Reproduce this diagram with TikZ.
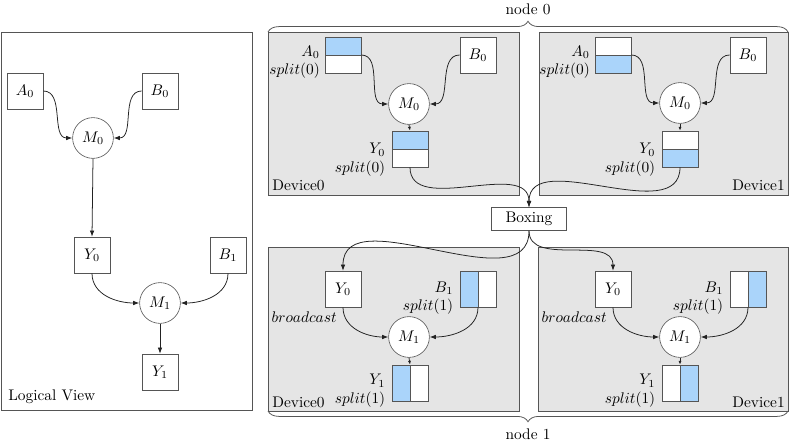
\documentclass[tikz,border=0pt]{standalone}
\usepackage{tikz}
\usetikzlibrary{positioning,arrows.meta,decorations.pathreplacing}
\definecolor{deviceGray}{HTML}{E5E5E5}
\definecolor{splitBlue}{HTML}{AAD4FA}
\definecolor{edgeGray}{HTML}{555555}
\definecolor{arrowBlack}{HTML}{222222}
\tikzset{
    frame/.style={draw=edgeGray,line width=0.5pt},
    device/.style={draw=edgeGray,fill=deviceGray,line width=0.5pt},
    tensor/.style={draw=edgeGray,fill=white,minimum width=23.4pt,
        minimum height=23.4pt,inner sep=0pt},
    opnode/.style={circle,draw=edgeGray,fill=white,minimum size=26.5pt,inner sep=0pt},
    bluetop/.style={tensor,path picture={
        \fill[splitBlue] (path picture bounding box.north west) rectangle (path picture bounding box.east);
        \draw[edgeGray] (path picture bounding box.west) -- (path picture bounding box.east);}},
    bluebottom/.style={tensor,path picture={
        \fill[splitBlue] (path picture bounding box.west) rectangle (path picture bounding box.south east);
        \draw[edgeGray] (path picture bounding box.west) -- (path picture bounding box.east);}},
    blueleft/.style={tensor,path picture={
        \fill[splitBlue] (path picture bounding box.north west) rectangle (path picture bounding box.south);
        \draw[edgeGray] (path picture bounding box.north) -- (path picture bounding box.south);}},
    blueright/.style={tensor,path picture={
        \fill[splitBlue] (path picture bounding box.north) rectangle (path picture bounding box.south east);
        \draw[edgeGray] (path picture bounding box.north) -- (path picture bounding box.south);}},
    splitlabel/.style={align=right,inner sep=1pt},
    plainlabel/.style={inner sep=0pt},
    boxingbox/.style={draw=edgeGray,fill=white,minimum width=49pt,minimum height=15pt,inner sep=2pt},
    arrow/.style={-{Latex[length=4pt,width=3pt]},draw=arrowBlack,line width=0.5pt},
    smallarrow/.style={-{Latex[length=2.5pt,width=2pt]},draw=arrowBlack,line width=0.5pt},
    nodebrace/.style={decorate,decoration={brace,amplitude=7pt},draw=edgeGray,line width=0.5pt}
}

\begin{document}
\begin{tikzpicture}[x=0.65pt,y=-0.65pt]
    \useasboundingbox (0,0) rectangle (789,443);

    % logical view
    \draw[frame] (1,32) rectangle (252,410);
    \node[plainlabel,anchor=base west] (logicaltitle) at (8,400) {Logical View};
    \node[tensor] (la0) at (25,91) {$A_0$};
    \node[tensor] (lb0) at (160,91) {$B_0$};
    \node[opnode] (lm0) at (93,138) {$M_0$};
    \node[tensor] (ly0) at (92,255) {$Y_0$};
    \node[tensor] (lb1) at (228,255) {$B_1$};
    \node[opnode] (lm1) at (160,303) {$M_1$};
    \node[tensor] (ly1) at (160,372) {$Y_1$};
    \draw[arrow] (la0.east) to[out=0,in=180] (lm0.west);
    \draw[arrow] (lb0.west) to[out=180,in=0] (lm0.east);
    \draw[arrow] (lm0.south) -- (ly0.north);
    \draw[arrow] (ly0.south) to[out=-90,in=180] (lm1.west);
    \draw[arrow] (lb1.south) to[out=-90,in=0] (lm1.east);
    \draw[arrow] (lm1.south) -- (ly1.north);

    % node 0
    \draw[device] (268,32) rectangle (519,195);
    \draw[device] (539,32) rectangle (788,195);
    \draw[nodebrace] (268,32) -- (788,32);
    \node (nodezero) at (528,9) {node 0};
    \node[plainlabel,anchor=base west] (devzerotop) at (272,191) {Device0};
    \node[plainlabel,anchor=base east] (devonetop) at (785,191) {Device1};

    \node[bluetop] (ua0l) at (343,55) {};
    \node[tensor] (ub0l) at (478,55) {$B_0$};
    \node[opnode] (um0l) at (409,104) {$M_0$};
    \node[bluetop] (uy0l) at (410,149) {};
    \node[splitlabel,left=2pt of ua0l,yshift=-4.5pt] (ua0llbl) {$A_0$\\$split(0)$};
    \node[splitlabel,left=3pt of uy0l,yshift=-7pt] (uy0llbl) {$Y_0$\\$split(0)$};

    \node[bluebottom] (ua0r) at (613,55) {};
    \node[tensor] (ub0r) at (748,55) {$B_0$};
    \node[opnode] (um0r) at (680,103) {$M_0$};
    \node[bluebottom] (uy0r) at (680,149) {};
    \node[splitlabel,left=2pt of ua0r,yshift=-4.5pt] (ua0rlbl) {$A_0$\\$split(0)$};
    \node[splitlabel,left=3pt of uy0r,yshift=-7pt] (uy0rlbl) {$Y_0$\\$split(0)$};

    \draw[arrow] (ua0l.east) to[out=0,in=180] (um0l.west);
    \draw[arrow] (ub0l.west) to[out=180,in=0] (um0l.east);
    \draw[smallarrow] (um0l.south) -- (uy0l.north);
    \draw[arrow] (ua0r.east) to[out=0,in=180] (um0r.west);
    \draw[arrow] (ub0r.west) to[out=180,in=0] (um0r.east);
    \draw[smallarrow] (um0r.south) -- (uy0r.north);

    % boxing
    \node[boxingbox] (boxing) at (529,219) {Boxing};
    \draw[arrow] (uy0l.south) to[out=-90,in=90] (boxing.north);
    \draw[arrow] (uy0r.south) to[out=-90,in=90] (boxing.north);

    % node 1
    \draw[device] (268,247) rectangle (519,411);
    \draw[device] (538,247) rectangle (788,411);
    \draw[nodebrace] (788,411) -- (268,411);
    \node (nodeone) at (528,434) {node 1};
    \node[plainlabel,anchor=base west] (devzerobot) at (272,407) {Device0};
    \node[plainlabel,anchor=base east] (devonebot) at (785,407) {Device1};

    \node[tensor] (dy0l) at (343,289) {$Y_0$};
    \node[blueleft] (db1l) at (478,289) {};
    \node[opnode] (dm1l) at (409,337) {$M_1$};
    \node[blueleft] (dy1l) at (410,383) {};
    \node[splitlabel,anchor=north east] (dy0llbl) at ([xshift=9pt,yshift=-2pt]dy0l.south west) {$broadcast$};
    \node[splitlabel,left=3pt of db1l,yshift=-6pt] (db1llbl) {$B_1$\\$split(1)$};
    \node[splitlabel,left=3pt of dy1l,yshift=-5pt] (dy1llbl) {$Y_1$\\$split(1)$};

    \node[tensor] (dy0r) at (613,289) {$Y_0$};
    \node[blueright] (db1r) at (748,289) {};
    \node[opnode] (dm1r) at (680,337) {$M_1$};
    \node[blueright] (dy1r) at (680,383) {};
    \node[splitlabel,anchor=north east] (dy0rlbl) at ([xshift=9pt,yshift=-2pt]dy0r.south west) {$broadcast$};
    \node[splitlabel,left=3pt of db1r,yshift=-6pt] (db1rlbl) {$B_1$\\$split(1)$};
    \node[splitlabel,left=3pt of dy1r,yshift=-5pt] (dy1rlbl) {$Y_1$\\$split(1)$};

    \draw[arrow] (boxing.south) to[out=-90,in=90] (dy0l.north);
    \draw[arrow] (boxing.south) to[out=-90,in=90] (dy0r.north);
    \draw[arrow] (dy0l.south) to[out=-90,in=180] (dm1l.west);
    \draw[arrow] (db1l.south) to[out=-90,in=0] (dm1l.east);
    \draw[smallarrow] (dm1l.south) -- (dy1l.north);
    \draw[arrow] (dy0r.south) to[out=-90,in=180] (dm1r.west);
    \draw[arrow] (db1r.south) to[out=-90,in=0] (dm1r.east);
    \draw[smallarrow] (dm1r.south) -- (dy1r.north);
\end{tikzpicture}
\end{document}
